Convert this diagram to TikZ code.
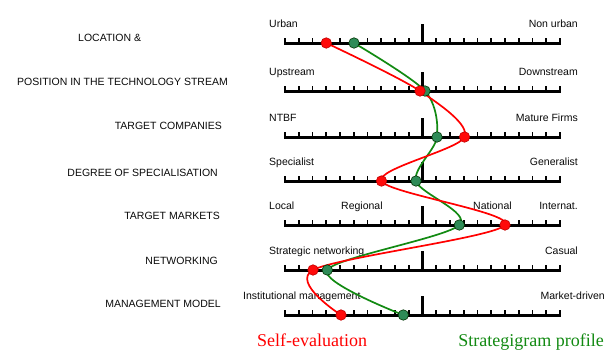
\documentclass[tikz,border=0pt]{standalone}
\usepackage{fontspec}
\setmainfont{Liberation Sans}
\newfontfamily\legendfont{Liberation Serif}
\definecolor{redc}{HTML}{FF0000}
\definecolor{reddot}{HTML}{FF0A0A}
\definecolor{greenc}{HTML}{128A12}
\definecolor{greendot}{HTML}{2E8B57}
\definecolor{txt}{HTML}{0A0A0A}
\begin{document}
\begin{tikzpicture}[x=1pt,y=-1pt,
  lbl/.style={font=\fontsize{10.5}{12}\selectfont, inner sep=0pt, text=txt},
  cat/.style={font=\fontsize{10.5}{12}\selectfont, inner sep=0pt, text=txt},
  legend/.style={font=\legendfont\fontsize{18}{20}\selectfont, inner sep=0pt},
  axisline/.style={line width=3pt, black},
  tickline/.style={line width=1.6pt, black},
  midtick/.style={line width=3pt, black},
  rdot/.style={circle, fill=reddot, draw=red!75!black, line width=0.6pt, minimum size=10.5pt, inner sep=0pt},
  gdot/.style={circle, fill=greendot, draw=green!20!black, line width=0.6pt, minimum size=10.5pt, inner sep=0pt},
  rcurve/.style={redc, line width=1.7pt},
  gcurve/.style={greenc, line width=1.7pt},
]
\useasboundingbox (0,0) rectangle (608,351);
\fill[white] (0,0) rectangle (608,351);

% scales
\foreach \y in {43,91,137,181,225,270,315}{
  \draw[axisline] (284.2,\y) -- (560.8,\y);
  \foreach \i in {0,...,20}{
    \draw[tickline] (285+13.75*\i,\y) -- ++(0,-5.5);
  }
  \draw[midtick] (422.5,\y) -- ++(0,-19);
}

% category labels
\node[cat, anchor=base west] (c1) at (78,41.7) {LOCATION \&};
\node[cat, anchor=base east] (c2) at (228,85) {POSITION IN THE TECHNOLOGY STREAM};
\node[cat, anchor=base east] (c3) at (222,129.3) {TARGET COMPANIES};
\node[cat, anchor=base east] (c4) at (218,176) {DEGREE OF SPECIALISATION};
\node[cat, anchor=base east] (c5) at (220,219.3) {TARGET MARKETS};
\node[cat, anchor=base east] (c6) at (218,264) {NETWORKING};
\node[cat, anchor=base east] (c7) at (221,307.5) {MANAGEMENT MODEL};

% scale end labels
\node[lbl, anchor=base west] (l1) at (269,27) {Urban};
\node[lbl, anchor=base east] (e1) at (578,27) {Non urban};
\node[lbl, anchor=base west] (l2) at (269,75) {Upstream};
\node[lbl, anchor=base east] (e2) at (578,75) {Downstream};
\node[lbl, anchor=base west] (l3) at (269,121) {NTBF};
\node[lbl, anchor=base east] (e3) at (578,121) {Mature Firms};
\node[lbl, anchor=base west] (l4) at (269,165) {Specialist};
\node[lbl, anchor=base east] (e4) at (578,165) {Generalist};
\node[lbl, anchor=base west] (l5) at (269,209) {Local};
\node[lbl, anchor=base west] (m5) at (341,209) {Regional};
\node[lbl, anchor=base west] (n5) at (473,209) {National};
\node[lbl, anchor=base east] (e5) at (578,209) {Internat.};
\node[lbl, anchor=base west] (l6) at (269,254) {Strategic networking};
\node[lbl, anchor=base east] (e6) at (578,254) {Casual};
\node[lbl, anchor=base west] (l7) at (243,299) {Institutional management};
\node[lbl, anchor=base east] (e7) at (605,299) {Market-driven};

% data points
\coordinate (r1) at (326.25,43);
\coordinate (r2) at (420,91);
\coordinate (r3) at (464.5,137);
\coordinate (r4) at (381.5,181);
\coordinate (r5) at (505,225);
\coordinate (r6) at (313,270);
\coordinate (r7) at (341,315);
\coordinate (g1) at (354,43);
\coordinate (g2) at (425,91);
\coordinate (g3) at (437,137);
\coordinate (g4) at (416,181);
\coordinate (g5) at (459.3,225);
\coordinate (g6) at (327.3,270);
\coordinate (g7) at (403.3,315);

\draw[gcurve] plot[smooth] coordinates {(g1) (g2) (g3) (g4) (g5) (g6) (g7)};
\draw[rcurve] plot[smooth] coordinates {(r1) (r2) (r3) (r4) (r5) (r6) (r7)};

\foreach \p in {g1,g2,g3,g4,g5,g6,g7} \node[gdot] (d\p) at (\p) {};
\foreach \p in {r1,r2,r3,r4,r5,r6,r7} \node[rdot] (d\p) at (\p) {};

% legend
\node[legend, text=redc, anchor=base west] (leg1) at (257,346) {Self-evaluation};
\node[legend, text=greenc, anchor=base east] (leg2) at (604,346) {Strategigram profile};
\end{tikzpicture}
\end{document}
